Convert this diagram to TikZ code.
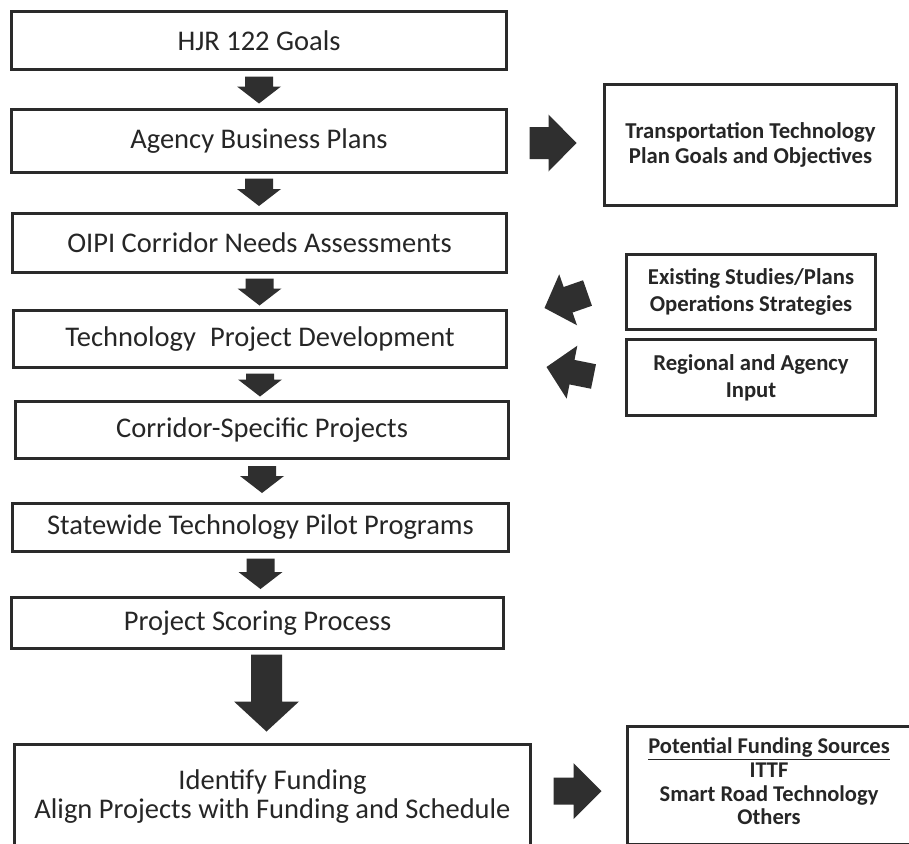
\documentclass[tikz,border=0pt]{standalone}
\usepackage{fontspec}
\setmainfont{Carlito}
\usetikzlibrary{calc}

\definecolor{linegray}{HTML}{2A2A2A}
\definecolor{textgray}{HTML}{262626}
\definecolor{arrowgray}{HTML}{2F2F2F}

\tikzset{
  stagebox/.style={draw=linegray, line width=3pt, fill=white, text=textgray,
    inner sep=0pt, align=center, font=\fontsize{28.5}{30}\selectfont},
  sidebox/.style={draw=linegray, line width=3pt, fill=white, text=textgray,
    inner sep=0pt, align=center, font=\bfseries\fontsize{22.7}{27}\selectfont},
  arrowfill/.style={fill=arrowgray},
}

% Block arrow: #1 tail, #2 tip, #3 shaft half-width, #4 head half-width, #5 head length
\newcommand\blockarrow[5]{%
  \path (#1) coordinate (ba-s) (#2) coordinate (ba-e);
  \path ($(ba-e)!#5!(ba-s)$) coordinate (ba-h);
  \fill[arrowfill]
    ($(ba-s)!#3!90:(ba-e)$) -- ($(ba-h)!#3!-90:(ba-s)$) -- ($(ba-h)!#4!-90:(ba-s)$)
    -- (ba-e)
    -- ($(ba-h)!#4!90:(ba-s)$) -- ($(ba-h)!#3!90:(ba-s)$) -- ($(ba-s)!#3!-90:(ba-e)$)
    -- cycle;
}

\begin{document}
\begin{tikzpicture}[x=1pt, y=-1pt]
\useasboundingbox (0,0) rectangle (909,843);
\clip (0,0) rectangle (909,843);
\fill[white] (0,0) rectangle (909,843);

% main process chain
\node[stagebox, minimum width=495pt, minimum height=58pt] (b1) at (259,40.5) {HJR 122 Goals};
\node[stagebox, minimum width=495pt, minimum height=63pt] (b2) at (259,141) {Agency Business Plans};
\node[stagebox, minimum width=494pt, minimum height=59pt] (b3) at (259.5,243) {OIPI Corridor Needs Assessments};
\node[stagebox, minimum width=493pt, minimum height=57pt] (b4) at (260,339) {Technology\hspace{0.5em}Project Development};
\node[stagebox, minimum width=493pt, minimum height=57pt] (b5) at (262,430) {Corridor-Specific Projects};
\node[stagebox, minimum width=496pt, minimum height=48pt] (b6) at (260.5,527.5) {Statewide Technology Pilot Programs};
\node[stagebox, minimum width=492pt, minimum height=51pt] (b7) at (257.5,623) {Project Scoring Process};
\node[stagebox, minimum width=516pt, minimum height=104pt] (b8) at (272.5,796.5)
  {Identify Funding\\[-1pt]Align Projects with Funding and Schedule};

% side inputs and outputs
\node[sidebox, minimum width=292pt, minimum height=121pt, font=\bfseries\fontsize{22.7}{25}\selectfont] (tt) at (750.5,145)
  {Transportation Technology\\Plan Goals and Objectives};
\node[sidebox, minimum width=249pt, minimum height=75pt] (ex) at (751,292)
  {Existing Studies/Plans\\Operations Strategies};
\node[sidebox, minimum width=249pt, minimum height=76pt] (rg) at (751,377.5)
  {Regional and Agency\\Input};
\node[sidebox, minimum width=283pt, minimum height=118pt, font=\bfseries\fontsize{22.5}{23.7}\selectfont] (fd) at (769,785.5)
  {\underline{Potential Funding Sources}\\ITTF\\Smart Road Technology\\Others\rule[-8pt]{0pt}{0pt}};

% downward flow arrows
\blockarrow{$(b1.south)+(0,5.5)$}{$(b1.south |- b2.north)+(0,-4.5)$}{14pt}{22pt}{17pt}
\blockarrow{$(b2.south)+(0,4.5)$}{$(b2.south |- b3.north)+(0,-6)$}{14pt}{22pt}{17pt}
\blockarrow{$(b3.south)+(0,4.5)$}{$(b3.south |- b4.north)+(0,-3.5)$}{14pt}{22pt}{17pt}
\blockarrow{$(b4.south)+(0,4.5)$}{$(b4.south |- b5.north)+(0,-3.5)$}{14pt}{22pt}{17pt}
\blockarrow{$(b5.south)+(0,6)$}{$(b5.south |- b6.north)+(0,-9)$}{14pt}{22pt}{17pt}
\blockarrow{$(b6.south)+(0,5.5)$}{$(b6.south |- b7.north)+(0,-7)$}{14pt}{22pt}{17pt}
\blockarrow{$(b7.south)+(9,4.5)$}{$(b7.south |- b8.north)+(9,-11.5)$}{15.5pt}{32.5pt}{30pt}

% side arrows
\blockarrow{$(b2.east)+(21.5,2)$}{$(tt.west |- b2.east)+(-26.5,2)$}{16pt}{28.5pt}{28pt}
\blockarrow{$(ex.west)+(-37.5,1)$}{$(b4.east)+(36.5,-31)$}{13.5pt}{27pt}{25pt}
\blockarrow{$(rg.west)+(-31.5,-1)$}{$(b4.east)+(38.5,28)$}{12.5pt}{27pt}{26pt}
\blockarrow{$(b8.east)+(21.5,-5.5)$}{$(fd.west |- b8.east)+(-24.5,-5.5)$}{13.5pt}{28pt}{28pt}
\end{tikzpicture}
\end{document}
